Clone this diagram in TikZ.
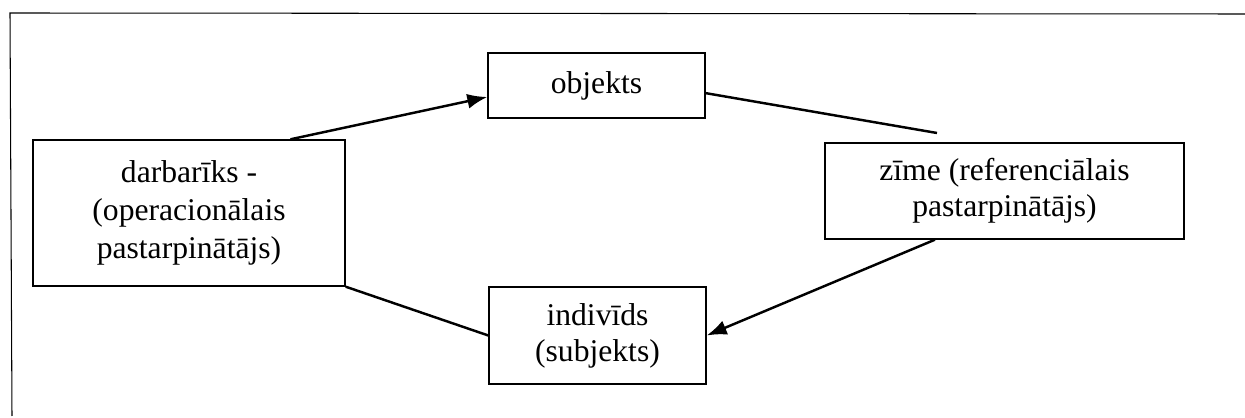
\documentclass[tikz,border=0pt]{standalone}
\usepackage{fontspec}
\setmainfont{Liberation Serif}
\usetikzlibrary{arrows.meta}

\begin{document}
\begin{tikzpicture}[x=0.02cm, y=-0.02cm, ->, >={Latex[length=4mm, width=3mm]}, line width=1.4pt]
  \tikzstyle{box}=[draw=black, line width=0.8pt, align=center, inner sep=0pt, font=\fontsize{18}{20.5}\selectfont]

  \useasboundingbox (0,0) rectangle (1245,418);

  % Frame
  \draw[-, line width=0.6pt] (1245,14) -- (10,13) -- (12,416);

  % Boxes
  \node[box, minimum width=6.24cm, minimum height=2.92cm, font=\fontsize{18}{21.5}\selectfont] (darb) at (189,213) {darbarīks -\\(operacionālais\\pastarpinātājs)};
  \node[box, minimum width=4.34cm, minimum height=1.3cm] (obj) at (596.5,85.5) {objekts};
  \node[box, minimum width=7.18cm, minimum height=1.92cm] (zime) at (1004.5,191) {zīme (referenciālais\\pastarpinātājs)};
  \node[box, minimum width=4.34cm, minimum height=1.94cm] (indiv) at (597.5,335.5) {indivīds\\(subjekts)};
  \coordinate (objend) at (937,133);

  % Connectors
  \draw (darb.36) -- (obj.186);
  \draw[-] (obj.-4) -- (objend);
  \draw (zime.215) -- (indiv.east);
  \draw[-] (darb.south east) -- (indiv.west);

\end{tikzpicture}
\end{document}
